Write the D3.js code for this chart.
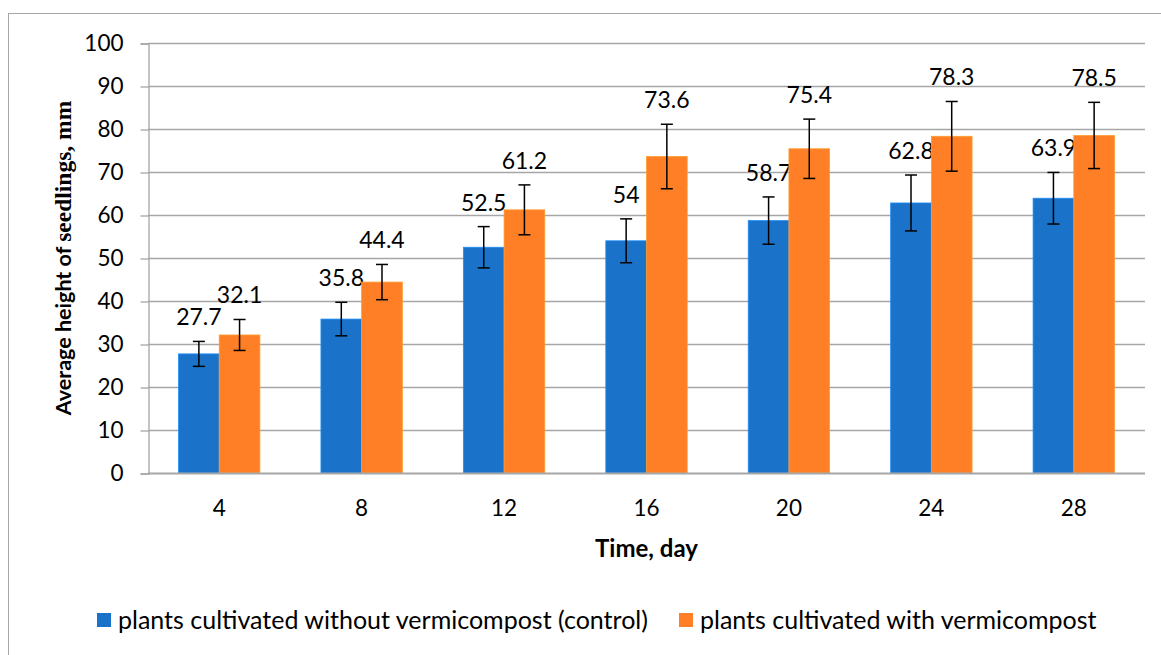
<!DOCTYPE html>
<html>
<head>
<meta charset="utf-8">
<script src="https://cdn.jsdelivr.net/npm/d3@7"></script>
<style>
  body { margin: 0; background: #fff; }
  svg { display: block; font-family: Lato, "Open Sans", sans-serif; }
</style>
</head>
<body>
<script>
// days on the x axis
var days = ['4', '8', '12', '16', '20', '24', '28'];
// mean height, mm
var control = [27.7, 35.8, 52.5, 54, 58.7, 62.8, 63.9];
var vermi = [32.1, 44.4, 61.2, 73.6, 75.4, 78.3, 78.5];
// error bar half-widths
var controlErr = [2.9, 3.9, 4.8, 5.1, 5.5, 6.5, 6.0];
var vermiErr = [3.6, 4.1, 5.8, 7.5, 6.9, 8.1, 7.7];
var yTicks = [0, 10, 20, 30, 40, 50, 60, 70, 80, 90, 100];
var seriesNames = ['plants cultivated without vermicompost (control)', 'plants cultivated with vermicompost'];
var colors = ['#1a73c9', '#fe7f26'];

var W = 1161, H = 655;
var plotL = 148, plotR = 1145, plotT = 43, plotB = 473;

var svg = d3.select('body').append('svg')
    .attr('width', W)
    .attr('height', H);

// outer frame
svg.append('rect')
    .attr('x', 8.5).attr('y', 13.5)
    .attr('width', W).attr('height', H)
    .attr('fill', 'none')
    .attr('stroke', '#a6a6a6');

var x = d3.scaleBand().domain(days).range([plotL, plotR]).paddingInner(0).paddingOuter(0);
var inner = d3.scaleBand().domain([0, 1]).range([0, x.bandwidth()]).paddingInner(0).paddingOuter(0.75);
var y = d3.scaleLinear().domain([0, 100]).range([plotB, plotT]);

// gridlines
svg.selectAll('line.grid')
    .data(yTicks.slice(1))
    .enter().append('line')
    .attr('class', 'grid')
    .attr('x1', plotL).attr('x2', plotR)
    .attr('y1', function(d) { return y(d) + 0.5; })
    .attr('y2', function(d) { return y(d) + 0.5; })
    .attr('stroke', '#a6a6a6')
    .attr('stroke-width', 1.3);

// y axis
var yAxis = svg.append('g')
    .attr('transform', 'translate(' + (plotL + 0.5) + ',0.5)')
    .call(d3.axisLeft(y).tickValues(yTicks).tickSize(8).tickPadding(17));
yAxis.select('.domain').attr('stroke', '#a6a6a6').attr('stroke-width', 1.3);
yAxis.selectAll('.tick line').attr('stroke', '#a6a6a6').attr('stroke-width', 1.3);
yAxis.selectAll('.tick text')
    .attr('fill', '#000')
    .style('font-family', 'Lato, sans-serif')
    .style('font-size', '22.5px');

// bars
var series = [
    { vals: control, errs: controlErr, i: 0 },
    { vals: vermi, errs: vermiErr, i: 1 }
];

series.forEach(function(s) {
    var g = svg.append('g');
    var rows = s.vals.map(function(v, k) { return { day: days[k], v: v, e: s.errs[k] }; });

    g.selectAll('rect')
        .data(rows)
        .enter().append('rect')
        .attr('x', function(d) { return x(d.day) + inner(s.i); })
        .attr('y', function(d) { return y(d.v); })
        .attr('width', inner.bandwidth())
        .attr('height', function(d) { return plotB - y(d.v); })
        .attr('fill', colors[s.i])
        .attr('stroke', d3.color(colors[s.i]).brighter(0.6))
        .attr('stroke-width', 0.8);

    // error bars
    var cx = function(d) { return x(d.day) + inner(s.i) + inner.bandwidth() / 2; };
    g.selectAll('line.err')
        .data(rows)
        .enter().append('line')
        .attr('class', 'err')
        .attr('x1', cx).attr('x2', cx)
        .attr('y1', function(d) { return y(d.v + d.e); })
        .attr('y2', function(d) { return y(d.v - d.e); })
        .attr('stroke', '#000').attr('stroke-width', 1.5);
    [1, -1].forEach(function(sign) {
        g.selectAll('line.cap' + sign)
            .data(rows)
            .enter().append('line')
            .attr('x1', function(d) { return cx(d) - 6; })
            .attr('x2', function(d) { return cx(d) + 6; })
            .attr('y1', function(d) { return y(d.v + sign * d.e); })
            .attr('y2', function(d) { return y(d.v + sign * d.e); })
            .attr('stroke', '#000').attr('stroke-width', 1.5);
    });

    // value labels, sitting above the error bar
    g.selectAll('text')
        .data(rows)
        .enter().append('text')
        .attr('x', cx)
        .attr('y', function(d) { return y(d.v + d.e) - 16; })
        .attr('text-anchor', 'middle')
        .style('font-size', '23px')
        .text(function(d) { return d.v; });
});

// x axis baseline
svg.append('line')
    .attr('x1', plotL).attr('x2', plotR)
    .attr('y1', plotB + 0.5).attr('y2', plotB + 0.5)
    .attr('stroke', '#a6a6a6').attr('stroke-width', 2);

// x tick labels
svg.selectAll('text.xlab')
    .data(days)
    .enter().append('text')
    .attr('class', 'xlab')
    .attr('x', function(d) { return x(d) + x.bandwidth() / 2; })
    .attr('y', 516)
    .attr('text-anchor', 'middle')
    .style('font-size', '22.5px')
    .text(function(d) { return d; });

// axis titles
svg.append('text')
    .attr('x', (plotL + plotR) / 2)
    .attr('y', 557)
    .attr('text-anchor', 'middle')
    .style('font-size', '24px')
    .style('font-weight', 'bold')
    .text('Time, day');

var yt = svg.append('text')
    .attr('transform', 'translate(71,' + ((plotT + plotB) / 2) + ') rotate(-90)')
    .attr('text-anchor', 'middle')
    .style('font-size', '21.5px')
    .style('font-weight', 'bold');
yt.append('tspan').text('Average height of ');
yt.append('tspan').style('font-family', '"Liberation Serif", serif').style('font-size', '23.5px').text('seedlings, mm');

// legend
var legX = [97, 679];
var leg = svg.selectAll('g.leg')
    .data(seriesNames)
    .enter().append('g')
    .attr('class', 'leg')
    .attr('transform', function(d, i) { return 'translate(' + legX[i] + ',613)'; });
leg.append('rect')
    .attr('width', 14).attr('height', 14)
    .attr('fill', function(d, i) { return colors[i]; });
leg.append('text')
    .attr('x', 21).attr('y', 16)
    .style('font-size', '25px')
    .text(function(d) { return d; });
</script>
</body>
</html>
